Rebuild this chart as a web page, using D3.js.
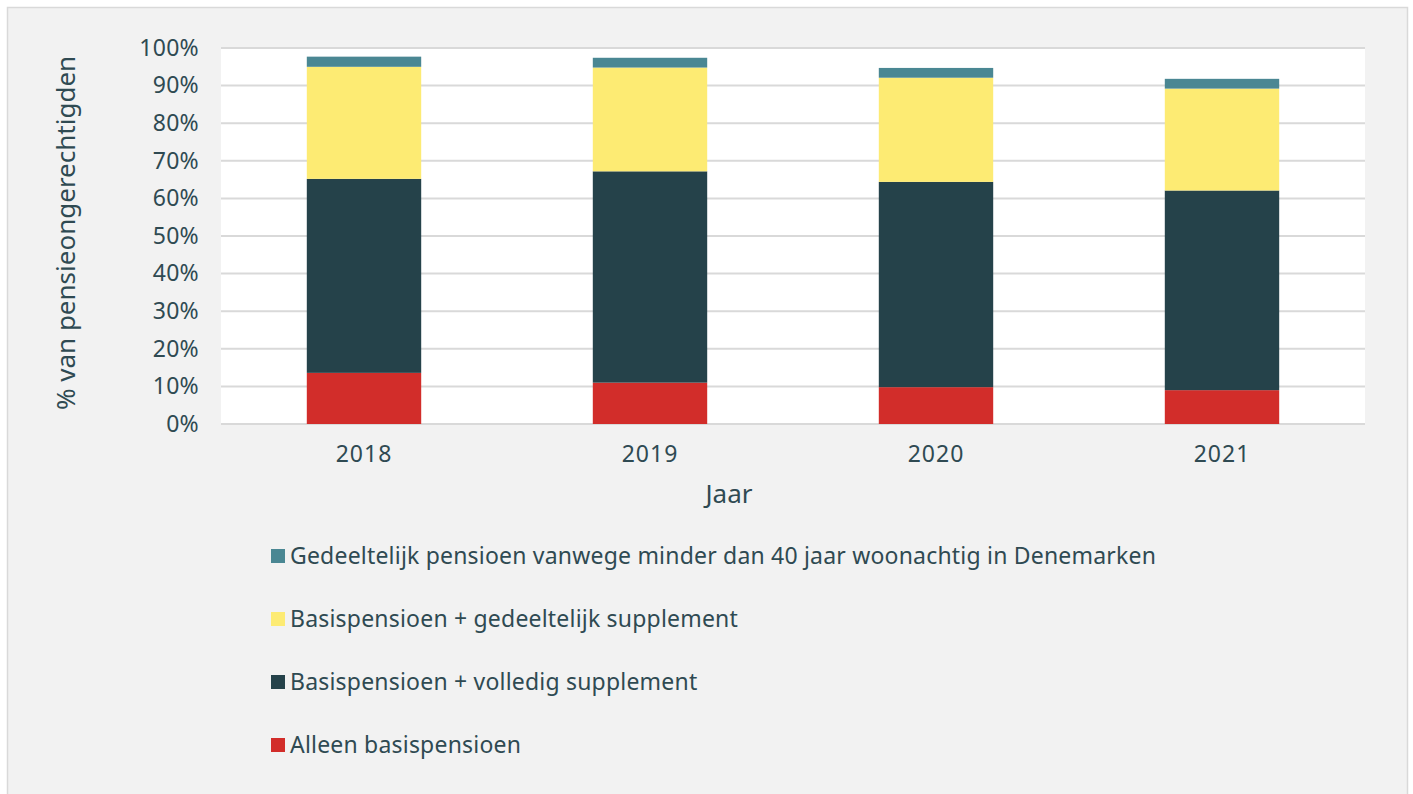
<!DOCTYPE html>
<html>
<head>
<meta charset="utf-8">
<script src="https://cdn.jsdelivr.net/npm/d3@7"></script>
<style>
  html, body { margin: 0; padding: 0; background: #fff; }
  text { font-family: "Noto Sans", sans-serif; fill: #2f4a52; }
</style>
</head>
<body>
<div id="chart"></div>
<script>
(function() {

    var width = 1413;
    var height = 794;

    // data (percent of pension recipients)
    var years = ["2018", "2019", "2020", "2021"];
    var alleenBasis = [13.6, 11.0, 9.8, 9.0];
    var volledig = [51.6, 56.2, 54.6, 53.1];
    var gedeeltelijkSuppl = [29.8, 27.6, 27.7, 27.1];
    var gedeeltelijkPensioen = [2.7, 2.6, 2.6, 2.6];
    var yTicks = [0, 10, 20, 30, 40, 50, 60, 70, 80, 90, 100];

    var seriesNames = [
        "Alleen basispensioen",
        "Basispensioen + volledig supplement",
        "Basispensioen + gedeeltelijk supplement",
        "Gedeeltelijk pensioen vanwege minder dan 40 jaar woonachtig in Denemarken"
    ];
    var seriesValues = [alleenBasis, volledig, gedeeltelijkSuppl, gedeeltelijkPensioen];
    var colors = ["#d22d2a", "#25424a", "#fdeb73", "#4a8793"];

    var margin = {left: 221, right: 48, top: 48, bottom: 370};
    var font = "'Noto Sans', sans-serif";

    var svg = d3.select("#chart")
        .append("svg")
        .attr("width", width)
        .attr("height", height);

    // outer panel
    svg.append("rect")
        .attr("x", 7.5).attr("y", 7.5)
        .attr("width", 1400).attr("height", 800)
        .attr("fill", "#f2f2f2")
        .attr("stroke", "#d9d9d9")
        .attr("stroke-width", 1.5);

    var x = d3.scaleBand()
        .domain(years)
        .range([margin.left, width - margin.right])
        .paddingInner(0.6)
        .paddingOuter(0.3);

    var y = d3.scaleLinear()
        .domain([0, 100])
        .range([height - margin.bottom, margin.top]);

    // plot background
    svg.append("rect")
        .attr("x", margin.left)
        .attr("y", margin.top)
        .attr("width", width - margin.right - margin.left)
        .attr("height", y(0) - y(100))
        .attr("fill", "#fff");

    // gridlines
    svg.append("g")
        .selectAll("line")
        .data(yTicks)
        .enter().append("line")
        .attr("x1", margin.left)
        .attr("x2", width - margin.right)
        .attr("y1", d => y(d))
        .attr("y2", d => y(d))
        .attr("stroke", "#d9d9d9")
        .attr("stroke-width", 2);

    // y axis labels
    var yAxis = d3.axisLeft(y)
        .tickValues(yTicks)
        .tickFormat(d => d + "%")
        .tickSize(0)
        .tickPadding(22);

    svg.append("g")
        .attr("transform", "translate(" + margin.left + ",0)")
        .call(yAxis)
        .call(g => g.select(".domain").remove())
        .selectAll("text")
        .attr("font-size", 23)
        .attr("letter-spacing", 0.3)
        .attr("font-family", font)
        .attr("fill", "#2f4a52");

    // x axis labels
    var xAxis = d3.axisBottom(x).tickSize(0).tickPadding(22);
    svg.append("g")
        .attr("transform", "translate(0," + y(0) + ")")
        .call(xAxis)
        .call(g => g.select(".domain").remove())
        .selectAll("text")
        .attr("font-size", 23)
        .attr("letter-spacing", 1)
        .attr("font-family", font)
        .attr("fill", "#2f4a52");

    // stacked bars
    var table = years.map(function(yr, i) {
        var row = {year: yr};
        seriesNames.forEach(function(n, j) { row[n] = seriesValues[j][i]; });
        return row;
    });

    var stack = d3.stack().keys(seriesNames)(table);

    svg.append("g")
        .selectAll("g")
        .data(stack)
        .enter().append("g")
        .attr("fill", (d, i) => colors[i])
        .selectAll("rect")
        .data(d => d)
        .enter().append("rect")
        .attr("x", d => x(d.data.year))
        .attr("width", x.bandwidth())
        .attr("y", d => y(d[1]))
        .attr("height", d => y(d[0]) - y(d[1]));

    // axis titles
    svg.append("text")
        .attr("transform", "translate(75," + (y(50) - 3) + ") rotate(-90)")
        .attr("text-anchor", "middle")
        .attr("font-size", 26)
        .text("% van pensieongerechtigden");

    svg.append("text")
        .attr("x", 729)
        .attr("y", 503)
        .attr("text-anchor", "middle")
        .attr("font-size", 26)
        .text("Jaar");

    // legend, drawn in reverse stack order
    var legendOrder = [3, 2, 1, 0];
    var legend = svg.append("g")
        .selectAll("g")
        .data(legendOrder)
        .enter().append("g")
        .attr("transform", (d, i) => "translate(271," + (556 + i * 63) + ")");

    legend.append("rect")
        .attr("x", 0).attr("y", -7)
        .attr("width", 14).attr("height", 14)
        .attr("fill", d => colors[d]);

    legend.append("text")
        .attr("x", 19)
        .attr("y", 0)
        .attr("dy", "0.35em")
        .attr("font-size", 23)
        .attr("letter-spacing", 0.2)
        .text(d => seriesNames[d]);

})();
</script>
</body>
</html>
